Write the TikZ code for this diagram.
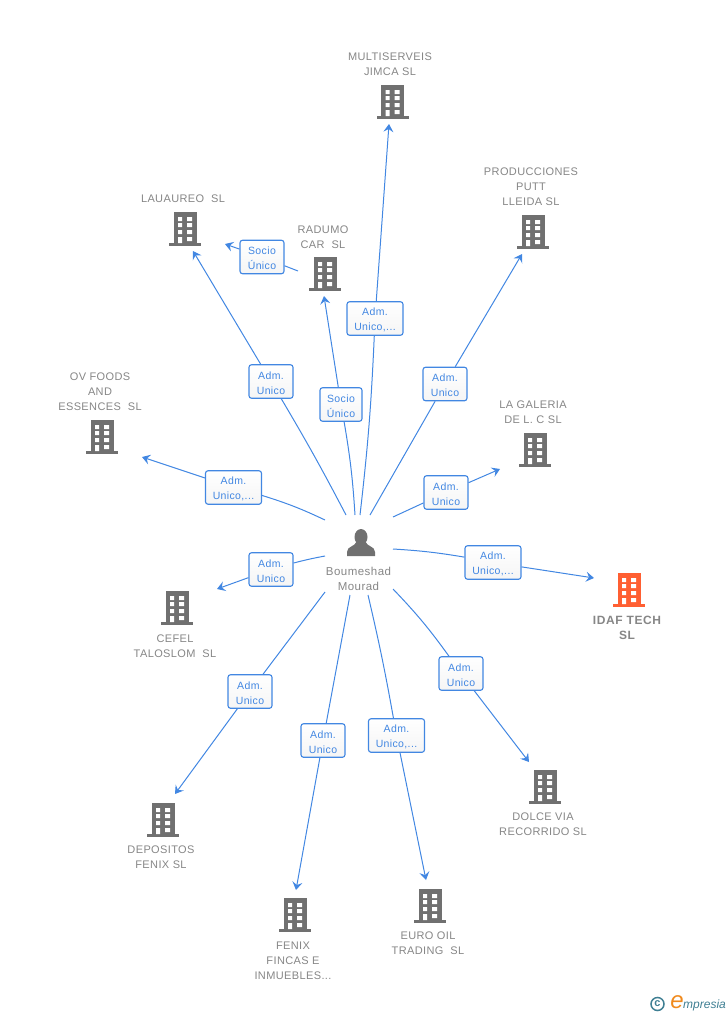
\documentclass[tikz,border=0pt]{standalone}
\usepackage{fontspec}
\setmainfont{Liberation Sans}
\usetikzlibrary{shapes.geometric,arrows.meta,positioning}
\definecolor{bldgray}{HTML}{707070}
\definecolor{bldorange}{HTML}{FF5F32}
\definecolor{txtgray}{HTML}{868686}
\definecolor{lnkblue}{HTML}{4287E2}
\definecolor{logoteal}{HTML}{3F7F93}
\definecolor{logoorange}{HTML}{F08A1D}

\tikzset{
    building/.pic = {
        \node[rectangle,fill,pic actions,inner sep=0pt,minimum width=23,minimum height=31,outer sep=0pt] (-body) at (0,-1.5) {};
        \fill[pic actions] (-16,14) rectangle (16,17);
        \foreach \wy in {-12,-6,1}
            \fill[white] (-7,\wy) rectangle (-3,\wy+4) (2,\wy) rectangle (7,\wy+4);
        \fill[white] (-7,8) rectangle (-3,14) (2,8) rectangle (7,12);
    },
}

\begin{document}
\begin{tikzpicture}[x=1pt,y=-1pt
    , comp/.style = {text=txtgray,align=center,inner sep=0pt,yshift=-1pt,font=\fontsize{11}{15}\selectfont\addfontfeature{LetterSpace=3.5}}
    , lnkbox/.style = {rectangle,draw=lnkblue,top color=white,bottom color=black!4,rounded corners=2.5,line width=1.1pt,text=lnkblue,align=center
        ,inner sep=0pt,minimum height=33.5,font=\fontsize{10.5}{15}\selectfont\addfontfeature{LetterSpace=3.5}}
    , link/.style = {draw=lnkblue,line width=1pt}
    , tip/.style = {-{Stealth[length=8,width=10,inset=3]}}
]
\useasboundingbox (0,0) rectangle (728,1015);

% companies
\foreach \nm/\x/\y in {multi/392.5/102, prod/533/232, laua/185/229, radu/325/274, ovfo/102/437, gale/535/450,
    cefe/177/608, depo/163/820, feni/295/915, euro/430/906, dolc/545/787}
    \pic[bldgray] (\nm) at (\x,\y) {building};
\pic[bldorange] (idaf) at (629,590) {building};

\node[comp] (multi-txt) at (390,63.5) {MULTISERVEIS\\JIMCA SL};
\node[comp] (prod-txt) at (531,186) {PRODUCCIONES\\PUTT\\LLEIDA SL};
\node[comp] (laua-txt) at (183,198) {LAUAUREO\ \ SL};
\node[comp] (radu-txt) at (323,236) {RADUMO\\CAR\ \ SL};
\node[comp] (ovfo-txt) at (100,391) {OV FOODS\\AND\\ESSENCES\ \ SL};
\node[comp] (gale-txt) at (533,411.5) {LA GALERIA\\DE L. C SL};
\node[comp,font=\fontsize{12}{15}\selectfont\bfseries\addfontfeature{LetterSpace=5}] (idaf-txt) at (627,626.5) {IDAF TECH\\SL};
\node[comp] (cefe-txt) at (175,645.5) {CEFEL\\TALOSLOM\ \ SL};
\node[comp] (depo-txt) at (161,856.5) {DEPOSITOS\\FENIX SL};
\node[comp] (feni-txt) at (293,960) {FENIX\\FINCAS E\\INMUEBLES...};
\node[comp] (euro-txt) at (428,942.5) {EURO OIL\\TRADING\ \ SL};
\node[comp] (dolc-txt) at (543,823.5) {DOLCE VIA\\RECORRIDO SL};

% person
\node[ellipse,fill=bldgray,inner sep=0pt,minimum width=13,minimum height=16] (head) at (361,537) {};
\fill[bldgray] (347,556) -- (347,552) .. controls (347,546) and (355,547) .. (357,541)
    -- (365,541) .. controls (367,547) and (375,546) .. (375,552) -- (375,556) -- cycle;
\node[comp,font=\fontsize{11.5}{15}\selectfont\addfontfeature{LetterSpace=4}] (hub) at (358.5,577.5) {Boumeshad\\Mourad};

% connectors with their boxes
\foreach \nm/\txt/\bw/\bx/\by/\sx/\sy/\ex/\ey/\bnd in {
    multi/{Adm.\\Unico,...}/56/375/318.5/360/515/389/124/-2,
    prod/{Adm.\\Unico}/44/445/384/370/515/522/254/0,
    gale/{Adm.\\Unico}/44/446/492.5/393/517/500/469/0,
    idaf/{Adm.\\Unico,...}/56/493/562.5/393/549/594/578/3,
    dolc/{Adm.\\Unico}/44/461/673.5/393/589/529/762/4,
    euro/{Adm.\\Unico,...}/56/396.5/735.5/368/595/426/880/1.5,
    feni/{Adm.\\Unico}/44/323/740.5/350/595/296/890/0,
    depo/{Adm.\\Unico}/44/250/691.5/325/592/175/794/0,
    cefe/{Adm.\\Unico}/44/271/569.5/325/556/217/589/-2,
    ovfo/{Adm.\\Unico,...}/56/233.5/487.5/325/520/142/457/-4,
    laua/{Adm.\\Unico}/44/271/381.5/346/515/193/251/-1.5,
    radu/{Socio\\Único}/42/341/404.5/355/515/324/296/-3,
    soci/{Socio\\Único}/44/262/257/298/271/225/244/0}
{
    \coordinate (\nm-from) at (\sx,\sy);
    \coordinate (\nm-to) at (\ex,\ey);
    \node[lnkbox,minimum width=\bw] (\nm-box) at (\bx,\by) {\rule{0pt}{11pt}\txt};
    \draw[link] (\nm-from) to[bend left=\bnd] (\nm-box);
    \draw[link,tip] (\nm-box) -- (\nm-to);
}

% logo
\node[circle,draw=logoteal,line width=1.5pt,inner sep=0pt,minimum size=13,text=logoteal,font=\fontsize{11}{11}\selectfont\bfseries] (logoc) at (657.5,1004) {c};
\node[text=logoorange,inner sep=0pt,font=\fontsize{24}{24}\selectfont\itshape] (logoe) at (677,1002) {e};
\node[text=logoteal,inner sep=0pt,anchor=west,font=\fontsize{12}{12}\selectfont\itshape] (logotxt) at (683,1005) {mpresia};
\end{tikzpicture}
\end{document}
